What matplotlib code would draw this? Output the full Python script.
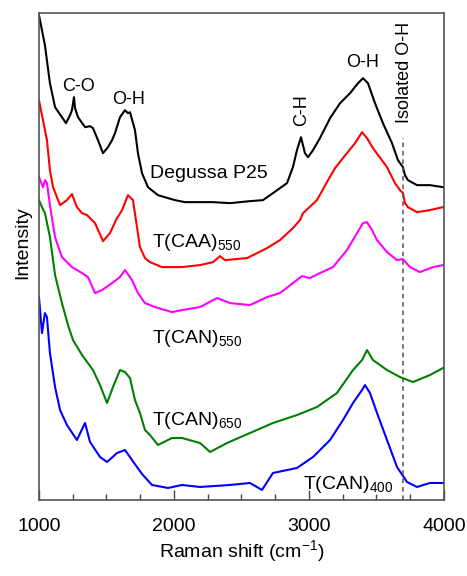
import matplotlib
matplotlib.use('Agg')
import matplotlib.pyplot as plt
from matplotlib.ticker import MultipleLocator

plt.rcParams['font.family'] = ['Liberation Sans', 'DejaVu Sans']
plt.rcParams['mathtext.default'] = 'regular'

# Raman spectra (cm-1, stacked intensity in arbitrary units)
p25_x = [1000, 1044, 1081, 1119, 1170, 1200, 1230, 1244, 1259, 1267, 1289, 1341, 1378, 1400,
         1437, 1474, 1511, 1541, 1563, 1600, 1637, 1659, 1674, 1711, 1733, 1763, 1807, 1881,
         2007, 2081, 2289, 2415, 2563, 2659, 2733, 2837, 2881, 2911, 2941, 2970, 2993, 3030,
         3081, 3156, 3230, 3304, 3363, 3400, 3437, 3489, 3548, 3615, 3659, 3696, 3711, 3733,
         3800, 3896, 3993]
p25_y = [485, 455, 417, 393, 383, 377, 385, 390, 403, 392, 383, 373, 374, 372,
         360, 347, 353, 360, 367, 383, 390, 387, 388, 370, 347, 327, 313, 305,
         300, 298, 298, 297, 299, 300, 307, 317, 333, 350, 363, 347, 343, 350,
         362, 382, 397, 407, 417, 422, 417, 397, 377, 357, 340, 333, 325, 320,
         315, 315, 313]

caa550_x = [1000, 1059, 1081, 1104, 1156, 1207, 1244, 1281, 1319, 1356, 1415, 1474, 1526,
            1570, 1615, 1659, 1696, 1726, 1748, 1785, 1822, 1911, 2059, 2193, 2289, 2341,
            2378, 2541, 2689, 2785, 2881, 2933, 2956, 3059, 3141, 3193, 3281, 3341, 3393,
            3430, 3474, 3578, 3637, 3674, 3696, 3711, 3733, 3800, 3896, 3993]
caa550_y = [400, 360, 330, 313, 295, 300, 306, 293, 287, 285, 277, 259, 267,
            280, 290, 305, 300, 273, 253, 242, 238, 233, 233, 235, 238, 244,
            240, 242, 252, 260, 272, 280, 287, 300, 320, 332, 347, 357, 368,
            362, 352, 333, 317, 310, 307, 297, 293, 288, 290, 293]

can550_x = [1000, 1030, 1044, 1059, 1081, 1119, 1170, 1244, 1319, 1363, 1415, 1467, 1541,
            1600, 1637, 1689, 1733, 1785, 1859, 1985, 2059, 2193, 2319, 2415, 2563, 2689,
            2785, 2881, 2948, 3007, 3081, 3178, 3281, 3356, 3400, 3430, 3467, 3504, 3578,
            3652, 3696, 3748, 3822, 3919, 3993]
can550_y = [323, 313, 320, 317, 295, 263, 243, 233, 227, 223, 207, 210, 217,
            223, 230, 220, 207, 197, 193, 188, 190, 193, 202, 197, 195, 203,
            207, 217, 224, 222, 227, 233, 250, 267, 277, 278, 270, 260, 248,
            240, 241, 233, 228, 233, 235]

can650_x = [1000, 1022, 1044, 1081, 1119, 1170, 1215, 1252, 1319, 1400, 1452, 1504, 1548,
            1600, 1637, 1674, 1711, 1748, 1785, 1822, 1881, 1985, 2059, 2193, 2267, 2393,
            2563, 2733, 2911, 3059, 3207, 3326, 3393, 3430, 3474, 3578, 3674, 3770, 3896,
            3993]
can650_y = [300, 293, 287, 263, 225, 197, 175, 160, 145, 130, 115, 97, 113,
            130, 128, 122, 100, 87, 70, 65, 55, 62, 62, 57, 48, 57,
            67, 77, 85, 93, 107, 130, 140, 150, 140, 130, 123, 118, 125,
            132]

can400_x = [1000, 1022, 1044, 1059, 1081, 1119, 1156, 1207, 1281, 1341, 1378, 1452, 1504,
            1578, 1637, 1689, 1763, 1837, 1956, 2059, 2193, 2415, 2563, 2652, 2733, 2911,
            3030, 3156, 3252, 3326, 3393, 3415, 3452, 3504, 3578, 3652, 3726, 3800, 3896,
            3993]
can400_y = [203, 167, 187, 183, 147, 113, 90, 75, 60, 77, 58, 43, 38,
            47, 50, 40, 26, 15, 12, 15, 13, 15, 17, 10, 27, 32,
            43, 60, 80, 97, 110, 115, 107, 87, 60, 33, 18, 13, 17,
            17]

fig = plt.figure(figsize=(4.67, 5.76), dpi=100)
ax = fig.add_axes([0.0835, 0.132, 0.8672, 0.845])

lw = 1.5
ax.plot(p25_x, p25_y, color='black', lw=lw)
ax.plot(caa550_x, caa550_y, color='red', lw=lw)
ax.plot(can550_x, can550_y, color='magenta', lw=lw)
ax.plot(can650_x, can650_y, color='green', lw=lw)
ax.plot(can400_x, can400_y, color='blue', lw=lw)

# isolated O-H position
ax.plot([3700, 3700], [0, 362], color='#555555', lw=1.1, ls=(0, (3, 2.5)))

ax.set_xlim(1000, 4000)
ax.set_ylim(0, 487)
ax.set_yticks([])
ax.xaxis.set_major_locator(MultipleLocator(1000))
ax.xaxis.set_minor_locator(MultipleLocator(250))
ax.tick_params(axis='x', which='major', direction='in', length=7, width=1,
               labelsize=14, pad=13, colors='#444444', labelcolor='black')
ax.tick_params(axis='x', which='minor', direction='in', length=4, width=1, colors='#444444')
for s in ax.spines.values():
    s.set_color('#555555')
    s.set_linewidth(1.2)

ax.set_xlabel('Raman shift (cm$^{-1}$)', fontsize=14, labelpad=2)
ax.set_ylabel('Intensity', fontsize=14)
ax.yaxis.set_label_coords(-0.02, 0.528)

# band assignments
ax.text(1289, 414, 'C-O', fontsize=13, ha='center', va='center')
ax.text(1667, 401, 'O-H', fontsize=13, ha='center', va='center')
ax.text(2948, 390, 'C-H', fontsize=13, ha='center', va='center', rotation=90)
ax.text(3400, 438, 'O-H', fontsize=13, ha='center', va='center')
ax.text(3704, 428, 'Isolated O-H', fontsize=13, ha='center', va='center', rotation=90)

# sample names
ax.text(1822, 327, 'Degussa P25', fontsize=14, ha='left', va='center')
ax.text(1837, 258, 'T(CAA)$_{550}$', fontsize=14, ha='left', va='center')
ax.text(1837, 162, 'T(CAN)$_{550}$', fontsize=14, ha='left', va='center')
ax.text(1837, 80, 'T(CAN)$_{650}$', fontsize=14, ha='left', va='center')
ax.text(2956, 15, 'T(CAN)$_{400}$', fontsize=14, ha='left', va='center')

fig.savefig('out.png', dpi=100)
